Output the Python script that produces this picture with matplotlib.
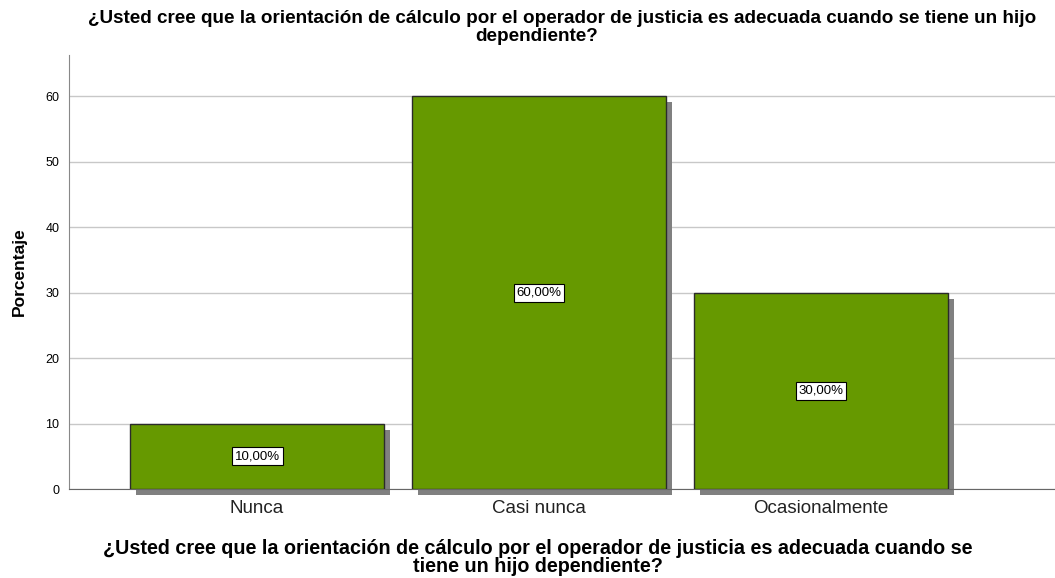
import matplotlib
matplotlib.use("Agg")
import matplotlib.pyplot as plt
from matplotlib.transforms import ScaledTranslation

categories = ["Nunca", "Casi nunca", "Ocasionalmente"]
values = [10.0, 60.0, 30.0]
labels = ["10,00%", "60,00%", "30,00%"]
yticks = [0, 10, 20, 30, 40, 50, 60]
title_lines = ["¿Usted cree que la orientación de cálculo por el operador de justicia es adecuada cuando se tiene un hijo",
               "dependiente?"]
xlabel = "¿Usted cree que la orientación de cálculo por el operador de justicia es adecuada cuando se\ntiene un hijo dependiente?"
ylabel = "Porcentaje"

plt.rcParams['font.family'] = ['Liberation Sans', 'DejaVu Sans']

fig = plt.figure(figsize=(10.55, 5.78), dpi=100)
ax = fig.add_axes([69/1055, 89/578, 1 - 69/1055, (489-55)/578])

x = list(range(len(categories)))
shadow_off = ScaledTranslation(6/100, -6/100, fig.dpi_scale_trans)
sh = ax.bar(x, values, width=0.9, color="#808080", edgecolor="none",
            transform=ax.transData + shadow_off, zorder=2)
for p in sh:
    p.set_clip_on(False)
ax.bar(x, values, width=0.9, color="#669900", edgecolor="#2b2b2b",
       linewidth=1.0, zorder=3)

for xi, v, lab in zip(x, values, labels):
    ax.text(xi, v/2, lab, ha="center", va="center", fontsize=9.5, zorder=5,
            bbox=dict(boxstyle="square,pad=0.22", facecolor="white",
                      edgecolor="black", linewidth=0.8))

ax.set_xlim(-0.667, 2.83)
ax.set_ylim(0, 66.3)
ax.set_yticks(yticks)
ax.set_xticks(x)
ax.set_xticklabels(categories, fontsize=13.5, color="#222222")
ax.tick_params(axis="y", labelsize=9, length=0, pad=7)
ax.tick_params(axis="x", length=0, pad=8)
ax.yaxis.grid(True, color="#c8c8c8", linewidth=1.0, zorder=0)
ax.set_axisbelow(True)
for s in ["top", "right"]:
    ax.spines[s].set_visible(False)
ax.spines["left"].set_color("#888888")
ax.spines["bottom"].set_color("#666666")

ax.set_ylabel(ylabel, fontsize=12.5, fontweight="bold", labelpad=13)
fig.text(538/1055, 1 - 539/578, xlabel, ha="center", va="top", fontsize=14.2,
         fontweight="bold", linespacing=0.95)
fig.text(562/1055, 1 - 10/578, title_lines[0], ha="center", va="top", fontsize=13.6,
         fontweight="bold")
fig.text(537/1055, 1 - 28/578, title_lines[1], ha="center", va="top", fontsize=13.6,
         fontweight="bold")

fig.savefig("out.png", dpi=100)
